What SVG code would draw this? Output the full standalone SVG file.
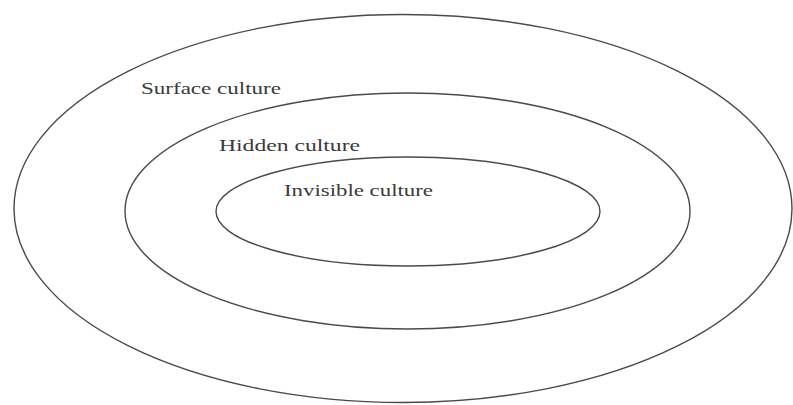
<svg xmlns="http://www.w3.org/2000/svg" width="793" height="405" viewBox="0 0 793 405">
<style>
.ring{fill:none;stroke:#4a4a4a;stroke-width:1.4}
.lbl{font-family:"Liberation Serif","Times New Roman",serif;font-size:17px;fill:#3a3a3a}
</style>
<rect width="793" height="405" fill="#ffffff"/>
<g id="surface">
<ellipse class="ring" cx="403" cy="208.5" rx="389" ry="194"/>
<text class="lbl" x="141" y="94" textLength="140" lengthAdjust="spacingAndGlyphs">Surface culture</text>
</g>
<g id="hidden">
<ellipse class="ring" cx="407.5" cy="211" rx="282.5" ry="118"/>
<text class="lbl" x="219" y="151" textLength="141" lengthAdjust="spacingAndGlyphs">Hidden culture</text>
</g>
<g id="invisible">
<ellipse class="ring" cx="408" cy="211.5" rx="192" ry="54.5"/>
<text class="lbl" x="284" y="196" textLength="149" lengthAdjust="spacingAndGlyphs">Invisible culture</text>
</g>
<g id="connectors"></g>
</svg>
